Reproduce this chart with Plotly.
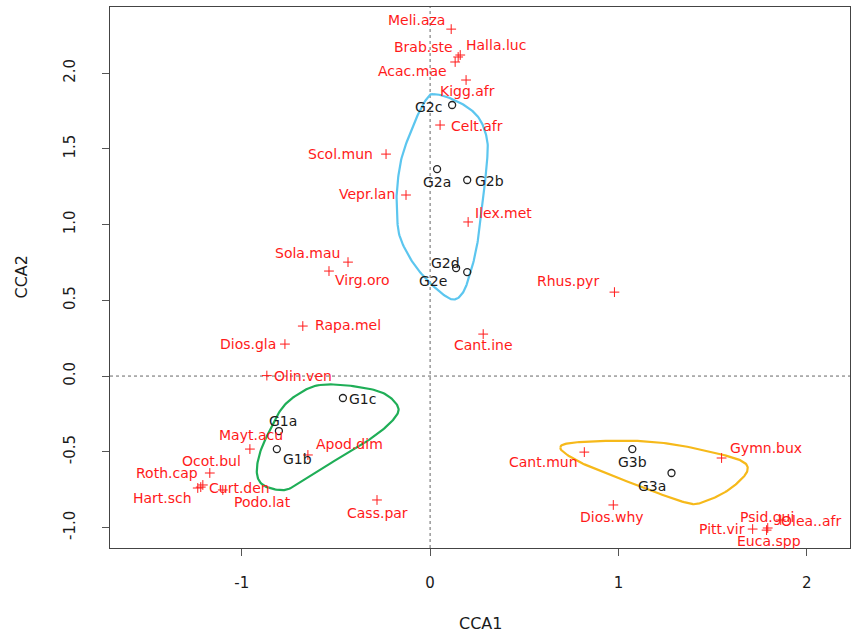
import numpy as np
import plotly.graph_objects as go

# ---- species scores (CCA1, CCA2) ----
species = ["Meli.aza", "Halla.luc", "Brab.ste", "Acac.mae", "Kigg.afr", "Celt.afr",
           "Scol.mun", "Vepr.lan", "Ilex.met", "Sola.mau", "Virg.oro", "Rhus.pyr",
           "Rapa.mel", "Cant.ine", "Dios.gla", "Olin.ven", "Mayt.acu", "Apod.dim",
           "Ocot.bul", "Roth.cap", "Hart.sch", "Curt.den", "Podo.lat", "Cass.par",
           "Cant.mun", "Gymn.bux", "Dios.why", "Pitt.vir", "Psid.gui", "Euca.spp",
           "Olea..afr"]
species_cca1 = [0.112, 0.160, 0.149, 0.133, 0.191, 0.053,
                -0.234, -0.128, 0.202, -0.436, -0.537, 0.979,
                -0.676, 0.282, -0.771, -0.867, -0.957, -0.649,
                -1.170, -1.207, -1.234, -1.218, -1.101, -0.282,
                0.819, 1.548, 0.973, 1.713, 1.793, 1.787,
                1.862]
species_cca2 = [2.290, 2.119, 2.106, 2.073, 1.954, 1.657,
                1.465, 1.195, 1.017, 0.752, 0.693, 0.554,
                0.330, 0.277, 0.211, 0.003, -0.482, -0.521,
                -0.640, -0.719, -0.739, -0.733, -0.752, -0.818,
                -0.502, -0.541, -0.851, -1.010, -1.003, -1.017,
                -0.950]

# ---- site scores ----
sites = ["G1a", "G1b", "G1c", "G2a", "G2b", "G2c", "G2d", "G2e", "G3a", "G3b"]
site_cca1 = [-0.803, -0.814, -0.463, 0.037, 0.197, 0.117, 0.138, 0.197, 1.282, 1.074]
site_cca2 = [-0.363, -0.482, -0.145, 1.366, 1.294, 1.789, 0.713, 0.686, -0.640, -0.482]

# ---- group outlines (closed, control points) ----
g1_cca1 = [-0.585, -0.410, -0.250, -0.170, -0.197, -0.303, -0.441, -0.585,
           -0.729, -0.798, -0.888, -0.920, -0.904, -0.851, -0.782, -0.691]
g1_cca2 = [-0.059, -0.066, -0.112, -0.205, -0.290, -0.403, -0.508, -0.620,
           -0.733, -0.752, -0.719, -0.640, -0.508, -0.356, -0.205, -0.112]
g2_cca1 = [0.016, 0.090, 0.197, 0.266, 0.303, 0.303, 0.287, 0.266, 0.239, 0.202, 0.176,
           0.138, 0.090, 0.000, -0.090, -0.160, -0.176, -0.176, -0.154, -0.106, -0.053, -0.011]
g2_cca2 = [1.861, 1.842, 1.776, 1.690, 1.558, 1.426, 1.228, 0.997, 0.799, 0.634, 0.554,
           0.508, 0.521, 0.614, 0.746, 0.917, 1.076, 1.228, 1.426, 1.604, 1.756, 1.842]
g3_cca1 = [0.691, 0.745, 0.904, 1.117, 1.314, 1.559, 1.665, 1.686,
           1.649, 1.559, 1.436, 1.367, 1.207, 1.027, 0.851, 0.729]
g3_cca2 = [-0.469, -0.442, -0.429, -0.429, -0.455, -0.521, -0.568, -0.620,
           -0.686, -0.772, -0.838, -0.838, -0.772, -0.686, -0.601, -0.521]

x_ticks = [-1, 0, 1, 2]
x_ticktext = ["-1", "0", "1", "2"]
y_ticks = [-1.0, -0.5, 0.0, 0.5, 1.0, 1.5, 2.0]
y_ticktext = ["-1.0", "-0.5", "0.0", "0.5", "1.0", "1.5", "2.0"]

# label placement relative to each point, in pixels (dx right, dy down)
species_label_offset = {
    "Meli.aza": (-35, -9), "Halla.luc": (36, -10), "Brab.ste": (-35, -10),
    "Acac.mae": (-43, 9), "Kigg.afr": (1, 11), "Celt.afr": (37, 1),
    "Scol.mun": (-46, 0), "Vepr.lan": (-39, -1), "Ilex.met": (35, -9),
    "Sola.mau": (-41, -9), "Virg.oro": (34, 9), "Rhus.pyr": (-46, -11),
    "Rapa.mel": (45, -1), "Cant.ine": (0, 11), "Dios.gla": (-37, 0),
    "Olin.ven": (36, 0), "Mayt.acu": (1, -14), "Apod.dim": (42, -11),
    "Ocot.bul": (2, -12), "Roth.cap": (-36, -12), "Hart.sch": (-35, 10),
    "Curt.den": (39, 1), "Podo.lat": (40, 12), "Cass.par": (0, 13),
    "Cant.mun": (-41, 10), "Gymn.bux": (44, -10), "Dios.why": (-1, 12),
    "Pitt.vir": (-31, 0), "Psid.gui": (-1, -11), "Euca.spp": (2, 11),
    "Olea..afr": (31, 1),
}
site_label_offset = {
    "G1a": (4, -10), "G1b": (21, 10), "G1c": (20, 1), "G2a": (0, 13),
    "G2b": (22, 1), "G2c": (-24, 2), "G2d": (-11, -5), "G2e": (-34, 9),
    "G3a": (-20, 13), "G3b": (0, 13),
}

FONT = "DejaVu Sans"


def closed_spline(xs, ys, steps=14):
    """Periodic Catmull-Rom curve through the given control points."""
    p = np.column_stack([xs, ys]).astype(float)
    n = len(p)
    out = []
    for i in range(n):
        p0, p1, p2, p3 = p[(i - 1) % n], p[i], p[(i + 1) % n], p[(i + 2) % n]
        for t in np.linspace(0, 1, steps, endpoint=False):
            t2, t3 = t * t, t * t * t
            out.append(0.5 * ((2 * p1) + (-p0 + p2) * t
                              + (2 * p0 - 5 * p1 + 4 * p2 - p3) * t2
                              + (-p0 + 3 * p1 - 3 * p2 + p3) * t3))
    out.append(out[0])
    out = np.array(out)
    return out[:, 0], out[:, 1]


fig = go.Figure()

for gx, gy, col in [(g2_cca1, g2_cca2, "#5cc6ef"),
                    (g1_cca1, g1_cca2, "#1fae57"),
                    (g3_cca1, g3_cca2, "#f6b91a")]:
    cx, cy = closed_spline(gx, gy)
    fig.add_trace(go.Scatter(x=cx, y=cy, mode="lines",
                             line=dict(color=col, width=2.2),
                             hoverinfo="skip", showlegend=False))

fig.add_trace(go.Scatter(
    x=species_cca1, y=species_cca2, mode="markers", text=species,
    marker=dict(symbol="cross-thin", size=7, line=dict(color="#ff1a1a", width=1)),
    showlegend=False))

fig.add_trace(go.Scatter(
    x=site_cca1, y=site_cca2, mode="markers", text=sites,
    marker=dict(symbol="circle-open", size=7, color="#222222",
                line=dict(color="#222222", width=1.3)),
    showlegend=False))

annotations = []
for name, x, y in zip(species, species_cca1, species_cca2):
    dx, dy = species_label_offset[name]
    annotations.append(dict(x=x, y=y, xref="x", yref="y", text=name, showarrow=False,
                            xshift=dx, yshift=-dy, xanchor="center", yanchor="middle",
                            font=dict(family=FONT, size=14, color="#ff1a1a")))
for name, x, y in zip(sites, site_cca1, site_cca2):
    dx, dy = site_label_offset[name]
    annotations.append(dict(x=x, y=y, xref="x", yref="y", text=name, showarrow=False,
                            xshift=dx, yshift=-dy, xanchor="center", yanchor="middle",
                            font=dict(family=FONT, size=14, color="#1a1a1a")))

# axis titles
annotations.append(dict(x=0.5, y=0, xref="paper", yref="paper", text="CCA1",
                        showarrow=False, yshift=-75, xanchor="center", yanchor="middle",
                        font=dict(family=FONT, size=16, color="#1a1a1a")))
annotations.append(dict(x=0, y=0.5, xref="paper", yref="paper", text="CCA2",
                        showarrow=False, xshift=-89, xanchor="center", yanchor="middle",
                        textangle=-90,
                        font=dict(family=FONT, size=16, color="#1a1a1a")))

shapes = [
    dict(type="line", xref="x", yref="paper", x0=0, x1=0, y0=0, y1=1,
         line=dict(color="#666666", width=1, dash="dot"), layer="below"),
    dict(type="line", xref="paper", yref="y", x0=0, x1=1, y0=0, y1=0,
         line=dict(color="#666666", width=1, dash="dot"), layer="below"),
]

fig.update_layout(
    width=853, height=635,
    margin=dict(l=110, r=3, t=7, b=87),
    paper_bgcolor="white", plot_bgcolor="white",
    annotations=annotations, shapes=shapes,
    font=dict(family=FONT, size=15, color="#1a1a1a"),
    xaxis=dict(range=[-1.70, 2.23], tickvals=x_ticks, ticktext=x_ticktext,
               showgrid=False, zeroline=False, showline=True, mirror=True,
               linecolor="#444444", linewidth=1.2, ticks="outside", ticklen=7,
               tickcolor="#555555", tickwidth=1.2, ticklabelstandoff=14,
               tickfont=dict(family=FONT, size=15, color="#1a1a1a")),
    yaxis=dict(range=[-1.135, 2.436], tickvals=y_ticks, ticktext=y_ticktext,
               showgrid=False, zeroline=False, showline=True, mirror=True,
               linecolor="#444444", linewidth=1.2, ticks="outside", ticklen=7,
               tickcolor="#555555", tickwidth=1.2, tickangle=-90, ticklabelstandoff=21,
               tickfont=dict(family=FONT, size=15, color="#1a1a1a")),
)

fig.write_html("out.html")
